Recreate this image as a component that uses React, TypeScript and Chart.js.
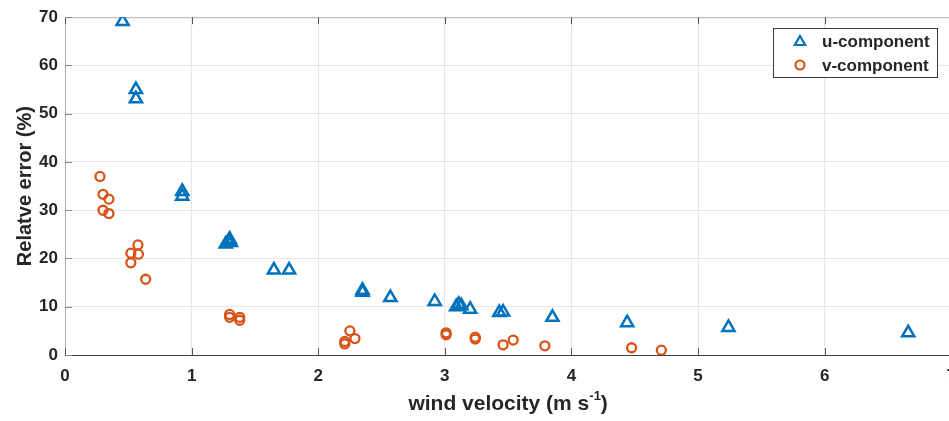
import React, { useEffect, useRef } from "react";
import { Chart, registerables } from "chart.js";

Chart.register(...registerables);

const uX = [0.455, 0.56, 0.56, 0.926, 0.926, 1.27, 1.29, 1.30, 1.31, 1.65, 1.77, 2.35, 2.35, 2.57, 2.92, 3.09, 3.11, 3.13, 3.20, 3.43, 3.46, 3.85, 4.44, 5.24, 6.66];
const uY = [69.1, 55.0, 53.1, 33.9, 32.9, 23.0, 23.5, 24.0, 23.3, 17.6, 17.6, 13.0, 13.4, 11.9, 11.1, 10.0, 10.5, 10.2, 9.5, 8.8, 8.9, 7.8, 6.7, 5.7, 4.6];
const vX = [0.276, 0.30, 0.347, 0.30, 0.347, 0.576, 0.52, 0.58, 0.52, 0.637, 1.30, 1.30, 1.38, 1.38, 2.25, 2.29, 2.21, 2.21, 3.01, 3.01, 3.24, 3.24, 3.46, 3.54, 3.79, 4.475, 4.71];
const vY = [37.0, 33.3, 32.3, 30.0, 29.3, 22.8, 21.1, 20.9, 19.1, 15.7, 8.4, 7.8, 7.8, 7.2, 5.0, 3.4, 2.8, 2.3, 4.6, 4.2, 3.7, 3.3, 2.1, 3.1, 1.9, 1.5, 1.0];

const seriesLabels = ["u-component", "v-component"];
const xTitleMain = "wind velocity (m s";
const xTitleSup = "-1";
const xTitleEnd = ")";
const yTitle = "Relatve error (%)";

const FONT = "'Liberation Sans', Arial, sans-serif";
const TEXT = "#262626";
const BLUE = "#0072BD";
const ORANGE = "#D95319";

const framePlugin = {
  id: "frame",
  beforeDatasetsDraw(chart: any) {
    const { ctx, chartArea: a, scales } = chart;
    ctx.save();
    ctx.strokeStyle = "#b5b5b5";
    ctx.lineWidth = 1;
    ctx.beginPath();
    ctx.moveTo(a.left, a.top + 0.5);
    ctx.lineTo(a.right, a.top + 0.5);
    ctx.stroke();
    ctx.strokeStyle = "#555555";
    scales.x.ticks.forEach((t: any) => {
      const px = Math.round(scales.x.getPixelForValue(t.value)) + 0.5;
      ctx.beginPath();
      ctx.moveTo(px, a.bottom);
      ctx.lineTo(px, a.bottom - 7);
      ctx.moveTo(px, a.top);
      ctx.lineTo(px, a.top + 7);
      ctx.stroke();
    });
    ctx.strokeStyle = "#888888";
    scales.y.ticks.forEach((t: any) => {
      const py = Math.round(scales.y.getPixelForValue(t.value)) + 0.5;
      ctx.beginPath();
      ctx.moveTo(a.left, py);
      ctx.lineTo(a.left + 7, py);
      ctx.stroke();
    });
    ctx.restore();
  },
  afterDraw(chart: any) {
    const { ctx, chartArea: a } = chart;
    ctx.save();
    ctx.fillStyle = TEXT;
    ctx.textBaseline = "alphabetic";
    ctx.font = `bold 21px ${FONT}`;
    const w1 = ctx.measureText(xTitleMain).width;
    ctx.font = `bold 13px ${FONT}`;
    const w2 = ctx.measureText(xTitleSup).width;
    ctx.font = `bold 21px ${FONT}`;
    const w3 = ctx.measureText(xTitleEnd).width;
    const total = w1 + w2 + w3;
    let x = (a.left + a.right) / 2 - total / 2;
    const base = 410;
    ctx.textAlign = "left";
    ctx.fillText(xTitleMain, x, base);
    x += w1;
    ctx.font = `bold 13px ${FONT}`;
    ctx.fillText(xTitleSup, x, base - 10);
    x += w2;
    ctx.font = `bold 21px ${FONT}`;
    ctx.fillText(xTitleEnd, x, base);

    const bx = 773, by = 28, bw = 164, bh = 49;
    ctx.fillStyle = "#ffffff";
    ctx.fillRect(bx, by, bw, bh);
    ctx.strokeStyle = "#3a3a3a";
    ctx.lineWidth = 1;
    ctx.strokeRect(bx + 0.5, by + 0.5, bw, bh);
    const rows = [
      { y: 41, style: "triangle", color: BLUE, r: 6 },
      { y: 65, style: "circle", color: ORANGE, r: 4.5 },
    ];
    rows.forEach((row, i) => {
      ctx.strokeStyle = row.color;
      ctx.lineWidth = 2.2;
      ctx.beginPath();
      if (row.style === "triangle") {
        const cx = 800, cy = row.y + 1;
        ctx.moveTo(cx, cy - row.r);
        ctx.lineTo(cx + row.r * 0.866, cy + row.r * 0.5);
        ctx.lineTo(cx - row.r * 0.866, cy + row.r * 0.5);
        ctx.closePath();
      } else {
        ctx.arc(800, row.y, row.r, 0, Math.PI * 2);
      }
      ctx.stroke();
      ctx.fillStyle = TEXT;
      ctx.font = `bold 17px ${FONT}`;
      ctx.textBaseline = "middle";
      ctx.fillText(seriesLabels[i], 822, row.y + 1);
    });
    ctx.restore();
  },
};

export default function App() {
  const ref = useRef<HTMLCanvasElement | null>(null);
  useEffect(() => {
    if (!ref.current) return;
    const chart = new Chart(ref.current, {
      type: "scatter",
      data: {
        datasets: [
          {
            label: seriesLabels[0],
            data: uX.map((x, i) => ({ x, y: uY[i] })),
            pointStyle: "triangle",
            pointRadius: 7,
            pointBorderWidth: 2.5,
            borderColor: BLUE,
            backgroundColor: "rgba(255,255,255,0)",
          },
          {
            label: seriesLabels[1],
            data: vX.map((x, i) => ({ x, y: vY[i] })),
            pointStyle: "circle",
            pointRadius: 4.5,
            pointBorderWidth: 2.3,
            borderColor: ORANGE,
            backgroundColor: "rgba(255,255,255,0)",
          },
        ],
      },
      options: {
        animation: false,
        responsive: false,
        layout: { padding: { left: 0, top: 15, right: 8, bottom: 0 } },
        plugins: {
          legend: { display: false },
          tooltip: { enabled: false },
        },
        scales: {
          x: {
            type: "linear",
            min: 0,
            max: 7,
            ticks: {
              stepSize: 1,
              color: TEXT,
              font: { family: FONT, size: 17, weight: "bold" },
              padding: 11,
            },
            grid: { color: "#e6e6e6", drawTicks: false },
            border: { color: "#404040", width: 1 },
            afterFit: (s: any) => {
              s.height = 66;
            },
          },
          y: {
            type: "linear",
            min: 0,
            max: 70,
            ticks: {
              stepSize: 10,
              color: TEXT,
              font: { family: FONT, size: 17, weight: "bold" },
              padding: 7,
            },
            grid: { color: "#e6e6e6", drawTicks: false },
            border: { color: "#b0b0b0", width: 1 },
            title: {
              display: true,
              text: yTitle,
              color: TEXT,
              font: { family: FONT, size: 20, weight: "bold" },
              padding: { top: 13, bottom: 0 },
            },
            afterFit: (s: any) => {
              s.width = 65;
            },
          },
        },
      },
      plugins: [framePlugin],
    });
    return () => chart.destroy();
  }, []);
  return (
    <div style={{ position: "fixed", left: 0, top: 0, width: 967, height: 421, background: "#fff" }}>
      <canvas ref={ref} width={967} height={421} style={{ display: "block" }} />
    </div>
  );
}
